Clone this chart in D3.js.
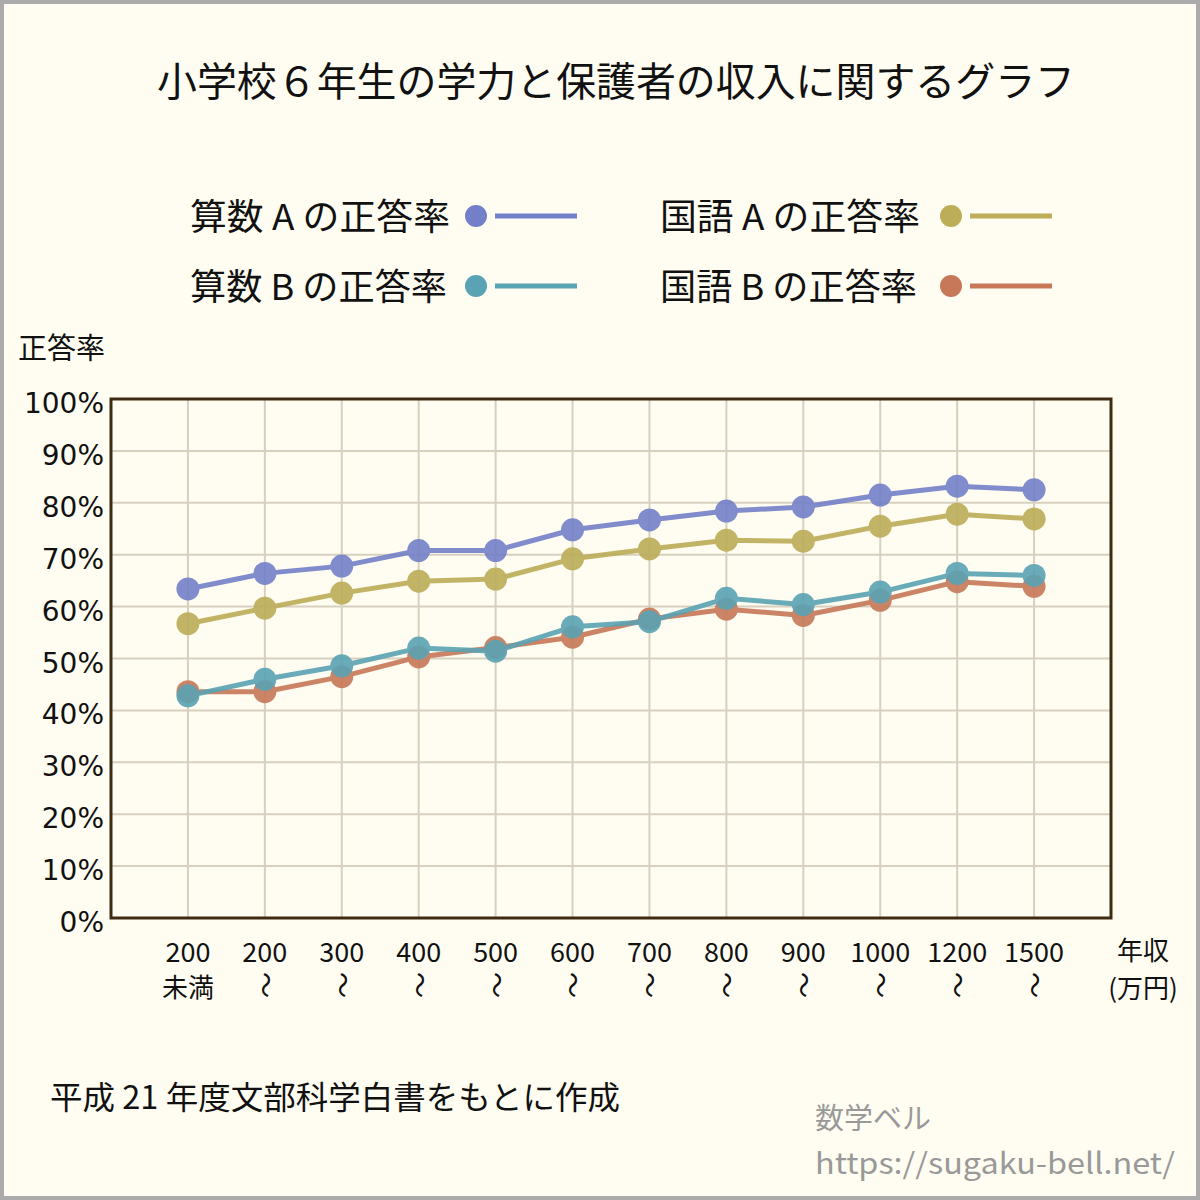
<!DOCTYPE html>
<html><head><meta charset="utf-8">
<script src="https://cdn.jsdelivr.net/npm/d3@7"></script>
<style>
html,body{margin:0;padding:0;background:#fff;}
svg{display:block;font-family:"Noto Sans CJK JP","Noto Sans",sans-serif;}
</style></head>
<body>
<svg id="c" width="1200" height="1200"></svg>
<script>
const categories = ["200未満","200〜","300〜","400〜","500〜","600〜","700〜","800〜","900〜","1000〜","1200〜","1500〜"];
const tickTop = ["200","200","300","400","500","600","700","800","900","1000","1200","1500"];
const tickBottom = ["未満","〜","〜","〜","〜","〜","〜","〜","〜","〜","〜","〜"];
const mathA = [63.4, 66.4, 67.8, 70.8, 70.8, 74.8, 76.7, 78.4, 79.2, 81.5, 83.2, 82.5];
const japA  = [56.7, 59.7, 62.6, 64.9, 65.3, 69.2, 71.1, 72.8, 72.6, 75.5, 77.8, 76.9];
const mathB = [42.8, 46.0, 48.6, 52.0, 51.4, 56.1, 57.1, 61.6, 60.4, 62.8, 66.4, 66.0];
const japB  = [43.6, 43.6, 46.5, 50.3, 52.1, 54.1, 57.6, 59.5, 58.3, 61.2, 64.8, 63.9];
const yTicks = [0,10,20,30,40,50,60,70,80,90,100];
const seriesNames = ["算数 A の正答率","国語 A の正答率","算数 B の正答率","国語 B の正答率"];
const seriesColors = ["#7380c9","#bcad58","#5aa3b4","#c77859"];

const svg = d3.select("#c");
svg.append("rect").attr("x",2).attr("y",2).attr("width",1196).attr("height",1196)
  .attr("fill","#fffdf1").attr("stroke","#ababab").attr("stroke-width",4);

svg.append("text").attr("x",157).attr("y",96)
  .attr("font-size",40).attr("fill","#111").attr("textLength",918).attr("lengthAdjust","spacingAndGlyphs")
  .text("小学校６年生の学力と保護者の収入に関するグラフ");

const x = d3.scalePoint().domain(categories).range([111,1111]).padding(1);
const y = d3.scaleLinear().domain([0,100]).range([918,399]);

// grid
const g = svg.append("g");
g.selectAll("line.h").data(yTicks).join("line")
  .attr("x1",111).attr("x2",1111).attr("y1",d=>y(d)).attr("y2",d=>y(d))
  .attr("stroke","#d7d0bf").attr("stroke-width",2);
g.selectAll("line.v").data(categories).join("line")
  .attr("x1",d=>x(d)).attr("x2",d=>x(d)).attr("y1",399).attr("y2",918)
  .attr("stroke","#d7d0bf").attr("stroke-width",2);

// y axis labels
svg.append("g").selectAll("text").data(yTicks).join("text")
  .attr("x",104).attr("y",d=>y(d)+14).attr("text-anchor","end")
  .attr("font-family","'DejaVu Sans',sans-serif")
  .attr("font-size",28).attr("fill","#111").text(d=>d+"%");
svg.append("text").attr("x",18).attr("y",359).attr("font-size",29).attr("fill","#111").text("正答率");

// x axis labels
const xl = svg.append("g");
xl.selectAll("text.t").data(categories).join("text")
  .attr("x",d=>x(d)).attr("y",962).attr("text-anchor","middle")
  .attr("font-size",27).attr("fill","#111").text((d,i)=>tickTop[i]);
xl.selectAll("text.b").data(categories).join("text")
  .attr("font-size",26).attr("fill","#111").attr("text-anchor","middle")
  .attr("transform",(d,i)=> tickBottom[i]==="〜" ? `translate(${x(d)},985) rotate(90)` : `translate(${x(d)},997)`)
  .attr("dy",(d,i)=> tickBottom[i]==="〜" ? "0.35em" : 0)
  .text((d,i)=>tickBottom[i]);
svg.append("text").attr("x",1143).attr("y",960).attr("text-anchor","middle").attr("font-size",26).attr("fill","#111").text("年収");
svg.append("text").attr("x",1143).attr("y",998).attr("text-anchor","middle").attr("font-size",26).attr("fill","#111").text("(万円)");

// series
const order = [[japB,3],[mathA,0],[japA,1],[mathB,2]];
const line = d3.line().x((d,i)=>x(categories[i])).y(d=>y(d));
order.forEach(([vals,ci])=>{
  const sg = svg.append("g").attr("opacity",0.9);
  sg.append("path").datum(vals).attr("d",line).attr("fill","none")
    .attr("stroke",seriesColors[ci]).attr("stroke-width",5).attr("stroke-linejoin","round");
  sg.selectAll("circle").data(vals).join("circle")
    .attr("cx",(d,i)=>x(categories[i])).attr("cy",d=>y(d)).attr("r",11.5)
    .attr("fill",seriesColors[ci]);
});

// frame
svg.append("rect").attr("x",111).attr("y",399).attr("width",1000).attr("height",519)
  .attr("fill","none").attr("stroke","#3e2c12").attr("stroke-width",3);

// legend
const legPos = [[190,230,476,260],[660,230,951,260],[190,300,476,257],[660,300,951,257]];
seriesNames.forEach((nm,i)=>{
  const [tx,ty,cx,tl] = legPos[i];
  svg.append("text").attr("x",tx).attr("y",ty).attr("font-size",36).attr("fill","#111")
    .attr("textLength",tl).attr("lengthAdjust","spacingAndGlyphs").text(nm);
  svg.append("circle").attr("cx",cx).attr("cy",ty-14).attr("r",11).attr("fill",seriesColors[i]);
  svg.append("line").attr("x1",cx+19).attr("x2",cx+101).attr("y1",ty-14).attr("y2",ty-14)
    .attr("stroke",seriesColors[i]).attr("stroke-width",5);
});

svg.append("text").attr("x",50).attr("y",1109).attr("font-size",32).attr("fill","#111")
  .attr("textLength",570).attr("lengthAdjust","spacingAndGlyphs").text("平成 21 年度文部科学白書をもとに作成");
svg.append("text").attr("x",815).attr("y",1129).attr("font-size",29).attr("fill","#999").text("数学ベル");
svg.append("text").attr("x",815).attr("y",1174).attr("font-size",29).attr("fill","#999")
  .attr("textLength",360).attr("lengthAdjust","spacingAndGlyphs").text("https://sugaku-bell.net/");
</script>
</body></html>
